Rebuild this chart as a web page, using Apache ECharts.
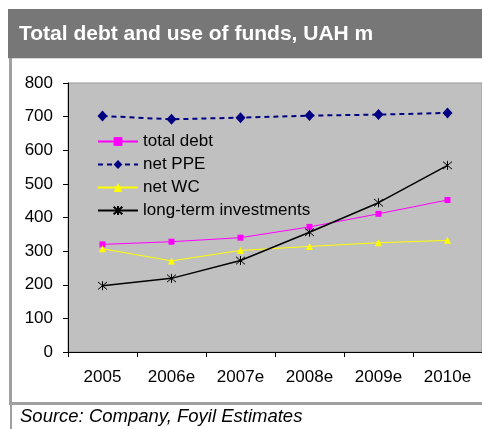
<!DOCTYPE html>
<html><head><meta charset="utf-8">
<script src="https://cdn.jsdelivr.net/npm/echarts@6/dist/echarts.min.js"></script>
<style>html,body{margin:0;padding:0;background:#fff}#c{width:482px;height:429px}</style>
</head><body><div id="c"></div>
<script>
const categories = ['2005', '2006e', '2007e', '2008e', '2009e', '2010e'];
const totalDebt = [320, 328, 340, 372, 411, 452];
const netPPE = [702, 692, 697, 703, 706, 711];
const netWC = [307, 271, 302, 314, 325, 332];
const longTermInv = [197, 219, 272, 356, 444, 555];
const yTicks = [0, 100, 200, 300, 400, 500, 600, 700, 800];

const FONT = '"Liberation Sans", Arial, sans-serif';
const asterisk = 'path://M0,0L10,10M10,0L0,10M5,-1L5,11';

const chart = echarts.init(document.getElementById('c'));
chart.setOption({
  animation: false,
  backgroundColor: '#fff',
  title: [
    {text: 'Total debt and use of funds, UAH m', left: 19, top: 24, padding: 0,
     textStyle: {color: '#fff', fontFamily: FONT, fontWeight: 'bold', fontSize: 21}},
    {text: 'Source: Company, Foyil Estimates', left: 20, top: 407, padding: 0,
     textStyle: {color: '#000', fontFamily: FONT, fontStyle: 'italic', fontWeight: 'normal', fontSize: 18.5}}
  ],
  graphic: [
    {type: 'rect', shape: {x: 8, y: 9, width: 480, height: 49}, style: {fill: '#777777'}, z: -1},
    {type: 'rect', shape: {x: 8, y: 58, width: 480, height: 1}, style: {fill: '#d8d8d8'}, z: -1},
    {type: 'rect', shape: {x: 9, y: 58, width: 3, height: 347}, style: {fill: '#a0a0a0'}, z: -1},
    {type: 'rect', shape: {x: 10, y: 405, width: 2, height: 30}, style: {fill: '#a0a0a0'}, z: -1},
    {type: 'rect', shape: {x: 9, y: 402, width: 480, height: 3}, style: {fill: '#a0a0a0'}, z: -1}
  ],
  grid: {left: 68, top: 83, width: 416, height: 269, show: true,
         backgroundColor: '#C0C0C0', borderColor: '#999', borderWidth: 1},
  legend: {
    orient: 'vertical', left: 92, top: 128, itemWidth: 40, itemHeight: 11, itemGap: 6,
    textStyle: {color: '#000', fontFamily: FONT, fontSize: 17, lineHeight: 17},
    data: ['total debt', 'net PPE', 'net WC', 'long-term investments']
  },
  xAxis: {
    type: 'category', data: categories, boundaryGap: true,
    axisLine: {lineStyle: {color: '#000', width: 1}},
    axisTick: {show: true, length: 5, inside: false, lineStyle: {color: '#000'}},
    axisLabel: {color: '#000', fontFamily: FONT, fontSize: 17, margin: 17}
  },
  yAxis: {
    type: 'value', min: 0, max: 800, interval: 100,
    axisLine: {show: true, lineStyle: {color: '#000', width: 1}},
    axisTick: {show: true, length: 5, lineStyle: {color: '#000'}},
    splitLine: {show: false},
    axisLabel: {color: '#000', fontFamily: FONT, fontSize: 17, margin: 15,
      formatter: v => yTicks.includes(v) ? String(v) : ''}
  },
  series: [
    {name: 'total debt', type: 'line', data: totalDebt, symbol: 'rect', symbolSize: 6,
     lineStyle: {color: '#FF00FF', width: 1}, itemStyle: {color: '#FF00FF'}},
    {name: 'net PPE', type: 'line', data: netPPE, symbol: 'diamond', symbolSize: [10, 11],
     lineStyle: {color: '#000080', width: 2, type: [5, 4]}, itemStyle: {color: '#000080'}},
    {name: 'net WC', type: 'line', data: netWC, symbol: 'triangle', symbolSize: 7,
     lineStyle: {color: '#FFFF00', width: 1}, itemStyle: {color: '#FFFF00'}},
    {name: 'long-term investments', type: 'line', data: longTermInv, symbol: asterisk, symbolSize: 9,
     lineStyle: {color: '#000', width: 1.5},
     itemStyle: {color: 'none', borderColor: '#000', borderWidth: 1}}
  ]
});
</script></body></html>
